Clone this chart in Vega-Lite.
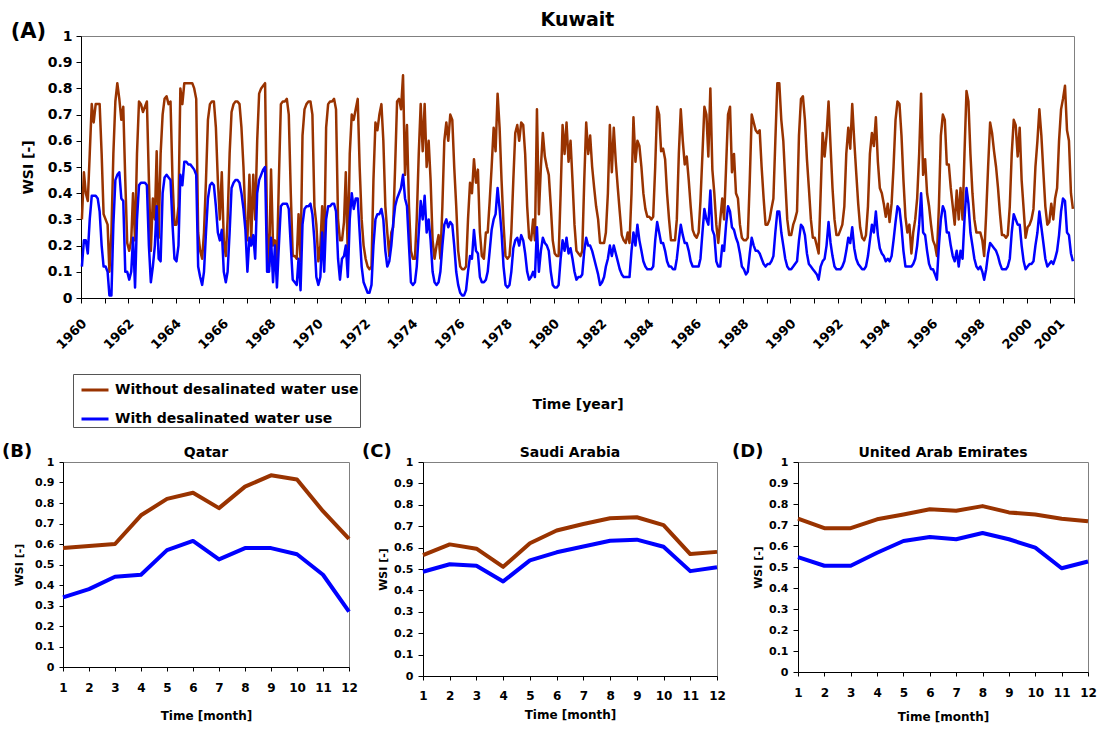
{
"$schema":"https://vega.github.io/schema/vega-lite/v6.json",
"background":"white",
"padding":{"left":2,"top":10,"right":0,"bottom":0},
"config":{
 "view":{"stroke":"#808080","strokeWidth":1},
 "axis":{"grid":false,"domainColor":"#000","tickColor":"#000","labelColor":"#000","titleColor":"#000","labelFontWeight":"bold","titleFontWeight":"bold","labelFont":"DejaVu Sans","titleFont":"DejaVu Sans"},
 "title":{"color":"#000","fontWeight":"bold","font":"DejaVu Sans"},
 "line":{"strokeJoin":"round"}
},
"spacing":14,
"resolve":{"scale":{"color":"independent"},"legend":{"color":"independent"}},
"vconcat":[
{
 "title":{"text":"(A)","anchor":"start","frame":"bounds","dx":-10,"offset":-31,"fontSize":21},
 "bounds":"flush","spacing":17,
 "resolve":{"scale":{"color":"independent"},"legend":{"color":"independent"}},
 "hconcat":[
 {"width":1,"height":1,"view":{"stroke":null},"data":{"values":[{"k":0}]},"mark":{"type":"point","opacity":0}},
 {
  "title":{"text":"Kuwait","fontSize":19,"offset":-1},
  "width":993,"height":262,
  "data":{"values":[
{"d":"1960-01-15","w":0.30,"s":0.12},{"d":"1960-02-15","w":0.48,"s":0.22},{"d":"1960-03-15","w":0.40,"s":0.22},{"d":"1960-04-15","w":0.37,"s":0.17},{"d":"1960-05-15","w":0.55,"s":0.30},{"d":"1960-06-15","w":0.74,"s":0.39},{"d":"1960-07-15","w":0.67,"s":0.39},{"d":"1960-08-15","w":0.74,"s":0.39},{"d":"1960-09-15","w":0.74,"s":0.38},{"d":"1960-10-15","w":0.74,"s":0.33},{"d":"1960-11-15","w":0.55,"s":0.20},{"d":"1960-12-15","w":0.32,"s":0.12},
{"d":"1961-01-15","w":0.30,"s":0.12},{"d":"1961-02-15","w":0.28,"s":0.10},{"d":"1961-03-15","w":0.10,"s":0.01},{"d":"1961-04-15","w":0.25,"s":0.01},{"d":"1961-05-15","w":0.55,"s":0.28},{"d":"1961-06-15","w":0.75,"s":0.45},{"d":"1961-07-15","w":0.82,"s":0.47},{"d":"1961-08-15","w":0.76,"s":0.48},{"d":"1961-09-15","w":0.68,"s":0.38},{"d":"1961-10-15","w":0.73,"s":0.37},{"d":"1961-11-15","w":0.45,"s":0.10},{"d":"1961-12-15","w":0.21,"s":0.10},
{"d":"1962-01-15","w":0.18,"s":0.07},{"d":"1962-02-15","w":0.22,"s":0.10},{"d":"1962-03-15","w":0.40,"s":0.23},{"d":"1962-04-15","w":0.22,"s":0.04},{"d":"1962-05-15","w":0.55,"s":0.30},{"d":"1962-06-15","w":0.75,"s":0.43},{"d":"1962-07-15","w":0.74,"s":0.44},{"d":"1962-08-15","w":0.71,"s":0.44},{"d":"1962-09-15","w":0.73,"s":0.44},{"d":"1962-10-15","w":0.75,"s":0.43},{"d":"1962-11-15","w":0.45,"s":0.20},{"d":"1962-12-15","w":0.18,"s":0.06},
{"d":"1963-01-15","w":0.38,"s":0.12},{"d":"1963-02-15","w":0.30,"s":0.20},{"d":"1963-03-15","w":0.56,"s":0.35},{"d":"1963-04-15","w":0.23,"s":0.15},{"d":"1963-05-15","w":0.55,"s":0.14},{"d":"1963-06-15","w":0.70,"s":0.40},{"d":"1963-07-15","w":0.76,"s":0.46},{"d":"1963-08-15","w":0.77,"s":0.47},{"d":"1963-09-15","w":0.74,"s":0.46},{"d":"1963-10-15","w":0.75,"s":0.45},{"d":"1963-11-15","w":0.45,"s":0.28},{"d":"1963-12-15","w":0.28,"s":0.15},
{"d":"1964-01-15","w":0.28,"s":0.14},{"d":"1964-02-15","w":0.35,"s":0.20},{"d":"1964-03-15","w":0.80,"s":0.47},{"d":"1964-04-15","w":0.74,"s":0.43},{"d":"1964-05-15","w":0.82,"s":0.52},{"d":"1964-06-15","w":0.82,"s":0.52},{"d":"1964-07-15","w":0.82,"s":0.51},{"d":"1964-08-15","w":0.82,"s":0.51},{"d":"1964-09-15","w":0.82,"s":0.50},{"d":"1964-10-15","w":0.80,"s":0.49},{"d":"1964-11-15","w":0.76,"s":0.47},{"d":"1964-12-15","w":0.25,"s":0.12},
{"d":"1965-01-15","w":0.18,"s":0.08},{"d":"1965-02-15","w":0.15,"s":0.05},{"d":"1965-03-15","w":0.25,"s":0.10},{"d":"1965-04-15","w":0.45,"s":0.25},{"d":"1965-05-15","w":0.68,"s":0.38},{"d":"1965-06-15","w":0.74,"s":0.43},{"d":"1965-07-15","w":0.75,"s":0.44},{"d":"1965-08-15","w":0.75,"s":0.43},{"d":"1965-09-15","w":0.65,"s":0.35},{"d":"1965-10-15","w":0.45,"s":0.25},{"d":"1965-11-15","w":0.30,"s":0.22},{"d":"1965-12-15","w":0.48,"s":0.26},
{"d":"1966-01-15","w":0.22,"s":0.10},{"d":"1966-02-15","w":0.16,"s":0.06},{"d":"1966-03-15","w":0.30,"s":0.10},{"d":"1966-04-15","w":0.55,"s":0.25},{"d":"1966-05-15","w":0.71,"s":0.42},{"d":"1966-06-15","w":0.74,"s":0.44},{"d":"1966-07-15","w":0.75,"s":0.45},{"d":"1966-08-15","w":0.75,"s":0.45},{"d":"1966-09-15","w":0.74,"s":0.44},{"d":"1966-10-15","w":0.65,"s":0.40},{"d":"1966-11-15","w":0.50,"s":0.34},{"d":"1966-12-15","w":0.30,"s":0.26},
{"d":"1967-01-15","w":0.22,"s":0.10},{"d":"1967-02-15","w":0.47,"s":0.23},{"d":"1967-03-15","w":0.22,"s":0.20},{"d":"1967-04-15","w":0.47,"s":0.24},{"d":"1967-05-15","w":0.30,"s":0.15},{"d":"1967-06-15","w":0.60,"s":0.40},{"d":"1967-07-15","w":0.78,"s":0.45},{"d":"1967-08-15","w":0.80,"s":0.47},{"d":"1967-09-15","w":0.81,"s":0.49},{"d":"1967-10-15","w":0.82,"s":0.50},{"d":"1967-11-15","w":0.25,"s":0.10},{"d":"1967-12-15","w":0.12,"s":0.10},
{"d":"1968-01-15","w":0.49,"s":0.23},{"d":"1968-02-15","w":0.20,"s":0.06},{"d":"1968-03-15","w":0.22,"s":0.20},{"d":"1968-04-15","w":0.13,"s":0.04},{"d":"1968-05-15","w":0.45,"s":0.20},{"d":"1968-06-15","w":0.74,"s":0.35},{"d":"1968-07-15","w":0.75,"s":0.36},{"d":"1968-08-15","w":0.75,"s":0.36},{"d":"1968-09-15","w":0.76,"s":0.36},{"d":"1968-10-15","w":0.70,"s":0.34},{"d":"1968-11-15","w":0.40,"s":0.20},{"d":"1968-12-15","w":0.16,"s":0.07},
{"d":"1969-01-15","w":0.16,"s":0.06},{"d":"1969-02-15","w":0.15,"s":0.05},{"d":"1969-03-15","w":0.32,"s":0.15},{"d":"1969-04-15","w":0.14,"s":0.03},{"d":"1969-05-15","w":0.62,"s":0.28},{"d":"1969-06-15","w":0.72,"s":0.34},{"d":"1969-07-15","w":0.74,"s":0.35},{"d":"1969-08-15","w":0.75,"s":0.35},{"d":"1969-09-15","w":0.75,"s":0.36},{"d":"1969-10-15","w":0.70,"s":0.32},{"d":"1969-11-15","w":0.35,"s":0.22},{"d":"1969-12-15","w":0.28,"s":0.08},
{"d":"1970-01-15","w":0.14,"s":0.05},{"d":"1970-02-15","w":0.20,"s":0.08},{"d":"1970-03-15","w":0.35,"s":0.25},{"d":"1970-04-15","w":0.17,"s":0.10},{"d":"1970-05-15","w":0.65,"s":0.30},{"d":"1970-06-15","w":0.74,"s":0.35},{"d":"1970-07-15","w":0.75,"s":0.35},{"d":"1970-08-15","w":0.75,"s":0.36},{"d":"1970-09-15","w":0.76,"s":0.36},{"d":"1970-10-15","w":0.72,"s":0.33},{"d":"1970-11-15","w":0.30,"s":0.15},{"d":"1970-12-15","w":0.22,"s":0.07},
{"d":"1971-01-15","w":0.22,"s":0.15},{"d":"1971-02-15","w":0.29,"s":0.16},{"d":"1971-03-15","w":0.48,"s":0.20},{"d":"1971-04-15","w":0.16,"s":0.08},{"d":"1971-05-15","w":0.55,"s":0.30},{"d":"1971-06-15","w":0.70,"s":0.40},{"d":"1971-07-15","w":0.68,"s":0.34},{"d":"1971-08-15","w":0.72,"s":0.38},{"d":"1971-09-15","w":0.76,"s":0.38},{"d":"1971-10-15","w":0.50,"s":0.25},{"d":"1971-11-15","w":0.30,"s":0.12},{"d":"1971-12-15","w":0.20,"s":0.06},
{"d":"1972-01-15","w":0.15,"s":0.04},{"d":"1972-02-15","w":0.12,"s":0.02},{"d":"1972-03-15","w":0.11,"s":0.02},{"d":"1972-04-15","w":0.12,"s":0.05},{"d":"1972-05-15","w":0.45,"s":0.20},{"d":"1972-06-15","w":0.67,"s":0.30},{"d":"1972-07-15","w":0.64,"s":0.32},{"d":"1972-08-15","w":0.70,"s":0.32},{"d":"1972-09-15","w":0.74,"s":0.34},{"d":"1972-10-15","w":0.60,"s":0.30},{"d":"1972-11-15","w":0.35,"s":0.18},{"d":"1972-12-15","w":0.25,"s":0.12},
{"d":"1973-01-15","w":0.16,"s":0.14},{"d":"1973-02-15","w":0.25,"s":0.20},{"d":"1973-03-15","w":0.27,"s":0.28},{"d":"1973-04-15","w":0.50,"s":0.35},{"d":"1973-05-15","w":0.75,"s":0.38},{"d":"1973-06-15","w":0.76,"s":0.40},{"d":"1973-07-15","w":0.72,"s":0.42},{"d":"1973-08-15","w":0.85,"s":0.47},{"d":"1973-09-15","w":0.47,"s":0.38},{"d":"1973-10-15","w":0.66,"s":0.35},{"d":"1973-11-15","w":0.35,"s":0.20},{"d":"1973-12-15","w":0.18,"s":0.06},
{"d":"1974-01-15","w":0.15,"s":0.05},{"d":"1974-02-15","w":0.15,"s":0.06},{"d":"1974-03-15","w":0.30,"s":0.12},{"d":"1974-04-15","w":0.55,"s":0.25},{"d":"1974-05-15","w":0.74,"s":0.37},{"d":"1974-06-15","w":0.56,"s":0.30},{"d":"1974-07-15","w":0.74,"s":0.39},{"d":"1974-08-15","w":0.50,"s":0.25},{"d":"1974-09-15","w":0.60,"s":0.30},{"d":"1974-10-15","w":0.45,"s":0.22},{"d":"1974-11-15","w":0.22,"s":0.10},{"d":"1974-12-15","w":0.15,"s":0.06},
{"d":"1975-01-15","w":0.20,"s":0.05},{"d":"1975-02-15","w":0.24,"s":0.06},{"d":"1975-03-15","w":0.15,"s":0.10},{"d":"1975-04-15","w":0.35,"s":0.20},{"d":"1975-05-15","w":0.60,"s":0.28},{"d":"1975-06-15","w":0.67,"s":0.30},{"d":"1975-07-15","w":0.60,"s":0.27},{"d":"1975-08-15","w":0.70,"s":0.29},{"d":"1975-09-15","w":0.68,"s":0.28},{"d":"1975-10-15","w":0.50,"s":0.20},{"d":"1975-11-15","w":0.35,"s":0.10},{"d":"1975-12-15","w":0.18,"s":0.05},
{"d":"1976-01-15","w":0.12,"s":0.02},{"d":"1976-02-15","w":0.11,"s":0.01},{"d":"1976-03-15","w":0.11,"s":0.01},{"d":"1976-04-15","w":0.12,"s":0.03},{"d":"1976-05-15","w":0.30,"s":0.10},{"d":"1976-06-15","w":0.44,"s":0.16},{"d":"1976-07-15","w":0.40,"s":0.15},{"d":"1976-08-15","w":0.53,"s":0.26},{"d":"1976-09-15","w":0.44,"s":0.18},{"d":"1976-10-15","w":0.49,"s":0.17},{"d":"1976-11-15","w":0.25,"s":0.08},{"d":"1976-12-15","w":0.16,"s":0.06},
{"d":"1977-01-15","w":0.15,"s":0.06},{"d":"1977-02-15","w":0.25,"s":0.07},{"d":"1977-03-15","w":0.25,"s":0.10},{"d":"1977-04-15","w":0.37,"s":0.18},{"d":"1977-05-15","w":0.50,"s":0.26},{"d":"1977-06-15","w":0.65,"s":0.30},{"d":"1977-07-15","w":0.56,"s":0.32},{"d":"1977-08-15","w":0.78,"s":0.42},{"d":"1977-09-15","w":0.65,"s":0.34},{"d":"1977-10-15","w":0.45,"s":0.25},{"d":"1977-11-15","w":0.28,"s":0.12},{"d":"1977-12-15","w":0.16,"s":0.05},
{"d":"1978-01-15","w":0.15,"s":0.04},{"d":"1978-02-15","w":0.16,"s":0.05},{"d":"1978-03-15","w":0.25,"s":0.10},{"d":"1978-04-15","w":0.45,"s":0.19},{"d":"1978-05-15","w":0.63,"s":0.22},{"d":"1978-06-15","w":0.66,"s":0.23},{"d":"1978-07-15","w":0.60,"s":0.20},{"d":"1978-08-15","w":0.67,"s":0.24},{"d":"1978-09-15","w":0.66,"s":0.22},{"d":"1978-10-15","w":0.55,"s":0.17},{"d":"1978-11-15","w":0.35,"s":0.10},{"d":"1978-12-15","w":0.23,"s":0.07},
{"d":"1979-01-15","w":0.22,"s":0.08},{"d":"1979-02-15","w":0.30,"s":0.10},{"d":"1979-03-15","w":0.22,"s":0.08},{"d":"1979-04-15","w":0.72,"s":0.27},{"d":"1979-05-15","w":0.32,"s":0.10},{"d":"1979-06-15","w":0.50,"s":0.18},{"d":"1979-07-15","w":0.63,"s":0.23},{"d":"1979-08-15","w":0.54,"s":0.21},{"d":"1979-09-15","w":0.50,"s":0.20},{"d":"1979-10-15","w":0.47,"s":0.18},{"d":"1979-11-15","w":0.35,"s":0.10},{"d":"1979-12-15","w":0.22,"s":0.05},
{"d":"1980-01-15","w":0.17,"s":0.04},{"d":"1980-02-15","w":0.16,"s":0.04},{"d":"1980-03-15","w":0.16,"s":0.05},{"d":"1980-04-15","w":0.40,"s":0.15},{"d":"1980-05-15","w":0.66,"s":0.22},{"d":"1980-06-15","w":0.55,"s":0.18},{"d":"1980-07-15","w":0.67,"s":0.23},{"d":"1980-08-15","w":0.52,"s":0.17},{"d":"1980-09-15","w":0.60,"s":0.19},{"d":"1980-10-15","w":0.45,"s":0.15},{"d":"1980-11-15","w":0.28,"s":0.10},{"d":"1980-12-15","w":0.18,"s":0.07},
{"d":"1981-01-15","w":0.17,"s":0.08},{"d":"1981-02-15","w":0.16,"s":0.08},{"d":"1981-03-15","w":0.18,"s":0.09},{"d":"1981-04-15","w":0.45,"s":0.18},{"d":"1981-05-15","w":0.67,"s":0.23},{"d":"1981-06-15","w":0.55,"s":0.20},{"d":"1981-07-15","w":0.62,"s":0.20},{"d":"1981-08-15","w":0.50,"s":0.18},{"d":"1981-09-15","w":0.42,"s":0.15},{"d":"1981-10-15","w":0.35,"s":0.12},{"d":"1981-11-15","w":0.30,"s":0.09},{"d":"1981-12-15","w":0.21,"s":0.05},
{"d":"1982-01-15","w":0.21,"s":0.06},{"d":"1982-02-15","w":0.21,"s":0.08},{"d":"1982-03-15","w":0.25,"s":0.12},{"d":"1982-04-15","w":0.40,"s":0.15},{"d":"1982-05-15","w":0.66,"s":0.20},{"d":"1982-06-15","w":0.48,"s":0.16},{"d":"1982-07-15","w":0.65,"s":0.20},{"d":"1982-08-15","w":0.52,"s":0.17},{"d":"1982-09-15","w":0.42,"s":0.14},{"d":"1982-10-15","w":0.33,"s":0.11},{"d":"1982-11-15","w":0.24,"s":0.09},{"d":"1982-12-15","w":0.22,"s":0.08},
{"d":"1983-01-15","w":0.21,"s":0.08},{"d":"1983-02-15","w":0.25,"s":0.08},{"d":"1983-03-15","w":0.21,"s":0.08},{"d":"1983-04-15","w":0.40,"s":0.18},{"d":"1983-05-15","w":0.69,"s":0.25},{"d":"1983-06-15","w":0.52,"s":0.20},{"d":"1983-07-15","w":0.60,"s":0.28},{"d":"1983-08-15","w":0.58,"s":0.22},{"d":"1983-09-15","w":0.50,"s":0.18},{"d":"1983-10-15","w":0.40,"s":0.14},{"d":"1983-11-15","w":0.34,"s":0.12},{"d":"1983-12-15","w":0.31,"s":0.11},
{"d":"1984-01-15","w":0.31,"s":0.11},{"d":"1984-02-15","w":0.30,"s":0.11},{"d":"1984-03-15","w":0.31,"s":0.12},{"d":"1984-04-15","w":0.50,"s":0.22},{"d":"1984-05-15","w":0.73,"s":0.29},{"d":"1984-06-15","w":0.70,"s":0.25},{"d":"1984-07-15","w":0.56,"s":0.21},{"d":"1984-08-15","w":0.57,"s":0.21},{"d":"1984-09-15","w":0.53,"s":0.18},{"d":"1984-10-15","w":0.40,"s":0.14},{"d":"1984-11-15","w":0.30,"s":0.12},{"d":"1984-12-15","w":0.22,"s":0.12},
{"d":"1985-01-15","w":0.22,"s":0.11},{"d":"1985-02-15","w":0.22,"s":0.11},{"d":"1985-03-15","w":0.30,"s":0.15},{"d":"1985-04-15","w":0.55,"s":0.22},{"d":"1985-05-15","w":0.72,"s":0.28},{"d":"1985-06-15","w":0.60,"s":0.24},{"d":"1985-07-15","w":0.51,"s":0.21},{"d":"1985-08-15","w":0.54,"s":0.21},{"d":"1985-09-15","w":0.45,"s":0.18},{"d":"1985-10-15","w":0.35,"s":0.14},{"d":"1985-11-15","w":0.26,"s":0.12},{"d":"1985-12-15","w":0.24,"s":0.12},
{"d":"1986-01-15","w":0.23,"s":0.12},{"d":"1986-02-15","w":0.25,"s":0.12},{"d":"1986-03-15","w":0.37,"s":0.15},{"d":"1986-04-15","w":0.55,"s":0.25},{"d":"1986-05-15","w":0.73,"s":0.34},{"d":"1986-06-15","w":0.70,"s":0.30},{"d":"1986-07-15","w":0.54,"s":0.28},{"d":"1986-08-15","w":0.80,"s":0.41},{"d":"1986-09-15","w":0.49,"s":0.26},{"d":"1986-10-15","w":0.40,"s":0.24},{"d":"1986-11-15","w":0.28,"s":0.14},{"d":"1986-12-15","w":0.21,"s":0.12},
{"d":"1987-01-15","w":0.30,"s":0.12},{"d":"1987-02-15","w":0.38,"s":0.20},{"d":"1987-03-15","w":0.30,"s":0.18},{"d":"1987-04-15","w":0.50,"s":0.28},{"d":"1987-05-15","w":0.70,"s":0.35},{"d":"1987-06-15","w":0.73,"s":0.33},{"d":"1987-07-15","w":0.48,"s":0.27},{"d":"1987-08-15","w":0.55,"s":0.26},{"d":"1987-09-15","w":0.40,"s":0.23},{"d":"1987-10-15","w":0.38,"s":0.21},{"d":"1987-11-15","w":0.28,"s":0.17},{"d":"1987-12-15","w":0.23,"s":0.12},
{"d":"1988-01-15","w":0.22,"s":0.11},{"d":"1988-02-15","w":0.22,"s":0.09},{"d":"1988-03-15","w":0.23,"s":0.10},{"d":"1988-04-15","w":0.45,"s":0.17},{"d":"1988-05-15","w":0.70,"s":0.23},{"d":"1988-06-15","w":0.67,"s":0.20},{"d":"1988-07-15","w":0.64,"s":0.18},{"d":"1988-08-15","w":0.63,"s":0.18},{"d":"1988-09-15","w":0.64,"s":0.17},{"d":"1988-10-15","w":0.50,"s":0.15},{"d":"1988-11-15","w":0.38,"s":0.13},{"d":"1988-12-15","w":0.28,"s":0.12},
{"d":"1989-01-15","w":0.28,"s":0.13},{"d":"1989-02-15","w":0.30,"s":0.13},{"d":"1989-03-15","w":0.34,"s":0.14},{"d":"1989-04-15","w":0.38,"s":0.16},{"d":"1989-05-15","w":0.60,"s":0.25},{"d":"1989-06-15","w":0.82,"s":0.33},{"d":"1989-07-15","w":0.82,"s":0.33},{"d":"1989-08-15","w":0.68,"s":0.25},{"d":"1989-09-15","w":0.60,"s":0.20},{"d":"1989-10-15","w":0.45,"s":0.15},{"d":"1989-11-15","w":0.30,"s":0.12},{"d":"1989-12-15","w":0.24,"s":0.11},
{"d":"1990-01-15","w":0.24,"s":0.11},{"d":"1990-02-15","w":0.28,"s":0.12},{"d":"1990-03-15","w":0.30,"s":0.13},{"d":"1990-04-15","w":0.33,"s":0.14},{"d":"1990-05-15","w":0.62,"s":0.22},{"d":"1990-06-15","w":0.76,"s":0.28},{"d":"1990-07-15","w":0.77,"s":0.27},{"d":"1990-08-15","w":0.68,"s":0.24},{"d":"1990-09-15","w":0.53,"s":0.17},{"d":"1990-10-15","w":0.42,"s":0.13},{"d":"1990-11-15","w":0.30,"s":0.12},{"d":"1990-12-15","w":0.23,"s":0.11},
{"d":"1991-01-15","w":0.23,"s":0.10},{"d":"1991-02-15","w":0.20,"s":0.09},{"d":"1991-03-15","w":0.17,"s":0.07},{"d":"1991-04-15","w":0.40,"s":0.12},{"d":"1991-05-15","w":0.63,"s":0.14},{"d":"1991-06-15","w":0.54,"s":0.15},{"d":"1991-07-15","w":0.62,"s":0.20},{"d":"1991-08-15","w":0.75,"s":0.29},{"d":"1991-09-15","w":0.58,"s":0.21},{"d":"1991-10-15","w":0.42,"s":0.16},{"d":"1991-11-15","w":0.30,"s":0.12},{"d":"1991-12-15","w":0.24,"s":0.11},
{"d":"1992-01-15","w":0.24,"s":0.11},{"d":"1992-02-15","w":0.26,"s":0.11},{"d":"1992-03-15","w":0.28,"s":0.12},{"d":"1992-04-15","w":0.35,"s":0.14},{"d":"1992-05-15","w":0.55,"s":0.18},{"d":"1992-06-15","w":0.65,"s":0.23},{"d":"1992-07-15","w":0.57,"s":0.21},{"d":"1992-08-15","w":0.74,"s":0.27},{"d":"1992-09-15","w":0.60,"s":0.19},{"d":"1992-10-15","w":0.48,"s":0.15},{"d":"1992-11-15","w":0.36,"s":0.13},{"d":"1992-12-15","w":0.27,"s":0.12},
{"d":"1993-01-15","w":0.23,"s":0.11},{"d":"1993-02-15","w":0.22,"s":0.11},{"d":"1993-03-15","w":0.24,"s":0.12},{"d":"1993-04-15","w":0.35,"s":0.16},{"d":"1993-05-15","w":0.55,"s":0.22},{"d":"1993-06-15","w":0.63,"s":0.28},{"d":"1993-07-15","w":0.58,"s":0.25},{"d":"1993-08-15","w":0.69,"s":0.33},{"d":"1993-09-15","w":0.52,"s":0.24},{"d":"1993-10-15","w":0.42,"s":0.19},{"d":"1993-11-15","w":0.40,"s":0.17},{"d":"1993-12-15","w":0.36,"s":0.16},
{"d":"1994-01-15","w":0.31,"s":0.14},{"d":"1994-02-15","w":0.36,"s":0.15},{"d":"1994-03-15","w":0.29,"s":0.14},{"d":"1994-04-15","w":0.36,"s":0.16},{"d":"1994-05-15","w":0.50,"s":0.22},{"d":"1994-06-15","w":0.68,"s":0.29},{"d":"1994-07-15","w":0.75,"s":0.35},{"d":"1994-08-15","w":0.74,"s":0.34},{"d":"1994-09-15","w":0.62,"s":0.27},{"d":"1994-10-15","w":0.45,"s":0.18},{"d":"1994-11-15","w":0.31,"s":0.12},{"d":"1994-12-15","w":0.25,"s":0.12},
{"d":"1995-01-15","w":0.28,"s":0.12},{"d":"1995-02-15","w":0.17,"s":0.12},{"d":"1995-03-15","w":0.25,"s":0.13},{"d":"1995-04-15","w":0.30,"s":0.15},{"d":"1995-05-15","w":0.38,"s":0.20},{"d":"1995-06-15","w":0.55,"s":0.28},{"d":"1995-07-15","w":0.78,"s":0.40},{"d":"1995-08-15","w":0.47,"s":0.25},{"d":"1995-09-15","w":0.53,"s":0.24},{"d":"1995-10-15","w":0.40,"s":0.18},{"d":"1995-11-15","w":0.35,"s":0.13},{"d":"1995-12-15","w":0.28,"s":0.11},
{"d":"1996-01-15","w":0.22,"s":0.11},{"d":"1996-02-15","w":0.20,"s":0.09},{"d":"1996-03-15","w":0.16,"s":0.07},{"d":"1996-04-15","w":0.35,"s":0.20},{"d":"1996-05-15","w":0.62,"s":0.30},{"d":"1996-06-15","w":0.70,"s":0.35},{"d":"1996-07-15","w":0.68,"s":0.33},{"d":"1996-08-15","w":0.51,"s":0.25},{"d":"1996-09-15","w":0.51,"s":0.25},{"d":"1996-10-15","w":0.42,"s":0.20},{"d":"1996-11-15","w":0.35,"s":0.16},{"d":"1996-12-15","w":0.28,"s":0.14},
{"d":"1997-01-15","w":0.41,"s":0.18},{"d":"1997-02-15","w":0.30,"s":0.12},{"d":"1997-03-15","w":0.42,"s":0.18},{"d":"1997-04-15","w":0.30,"s":0.15},{"d":"1997-05-15","w":0.55,"s":0.30},{"d":"1997-06-15","w":0.79,"s":0.42},{"d":"1997-07-15","w":0.75,"s":0.36},{"d":"1997-08-15","w":0.55,"s":0.25},{"d":"1997-09-15","w":0.40,"s":0.20},{"d":"1997-10-15","w":0.30,"s":0.15},{"d":"1997-11-15","w":0.25,"s":0.12},{"d":"1997-12-15","w":0.25,"s":0.11},
{"d":"1998-01-15","w":0.25,"s":0.12},{"d":"1998-02-15","w":0.22,"s":0.10},{"d":"1998-03-15","w":0.16,"s":0.07},{"d":"1998-04-15","w":0.32,"s":0.11},{"d":"1998-05-15","w":0.50,"s":0.17},{"d":"1998-06-15","w":0.67,"s":0.21},{"d":"1998-07-15","w":0.63,"s":0.20},{"d":"1998-08-15","w":0.56,"s":0.19},{"d":"1998-09-15","w":0.50,"s":0.18},{"d":"1998-10-15","w":0.42,"s":0.16},{"d":"1998-11-15","w":0.32,"s":0.13},{"d":"1998-12-15","w":0.24,"s":0.11},
{"d":"1999-01-15","w":0.24,"s":0.11},{"d":"1999-02-15","w":0.23,"s":0.11},{"d":"1999-03-15","w":0.24,"s":0.12},{"d":"1999-04-15","w":0.35,"s":0.15},{"d":"1999-05-15","w":0.55,"s":0.25},{"d":"1999-06-15","w":0.68,"s":0.32},{"d":"1999-07-15","w":0.66,"s":0.30},{"d":"1999-08-15","w":0.54,"s":0.28},{"d":"1999-09-15","w":0.65,"s":0.28},{"d":"1999-10-15","w":0.45,"s":0.20},{"d":"1999-11-15","w":0.34,"s":0.14},{"d":"1999-12-15","w":0.23,"s":0.11},
{"d":"2000-01-15","w":0.27,"s":0.12},{"d":"2000-02-15","w":0.28,"s":0.13},{"d":"2000-03-15","w":0.30,"s":0.13},{"d":"2000-04-15","w":0.34,"s":0.14},{"d":"2000-05-15","w":0.50,"s":0.20},{"d":"2000-06-15","w":0.60,"s":0.25},{"d":"2000-07-15","w":0.72,"s":0.33},{"d":"2000-08-15","w":0.62,"s":0.27},{"d":"2000-09-15","w":0.48,"s":0.21},{"d":"2000-10-15","w":0.35,"s":0.15},{"d":"2000-11-15","w":0.28,"s":0.12},{"d":"2000-12-15","w":0.29,"s":0.13},
{"d":"2001-01-15","w":0.36,"s":0.14},{"d":"2001-02-15","w":0.30,"s":0.13},{"d":"2001-03-15","w":0.38,"s":0.15},{"d":"2001-04-15","w":0.42,"s":0.18},{"d":"2001-05-15","w":0.60,"s":0.24},{"d":"2001-06-15","w":0.72,"s":0.33},{"d":"2001-07-15","w":0.76,"s":0.38},{"d":"2001-08-15","w":0.81,"s":0.37},{"d":"2001-09-15","w":0.64,"s":0.25},{"d":"2001-10-15","w":0.60,"s":0.24},{"d":"2001-11-15","w":0.40,"s":0.17},{"d":"2001-12-15","w":0.34,"s":0.14}
  ]},
  "encoding":{
   "x":{"field":"d","type":"temporal",
    "scale":{"type":"utc","domain":[{"year":1960,"month":1,"date":1,"utc":true},{"year":2002,"month":1,"date":1,"utc":true}]},
    "axis":{"title":"Time [year]",
     "values":[{"year":1960,"month":1,"date":1,"utc":true},{"year":1961,"month":1,"date":1,"utc":true},{"year":1962,"month":1,"date":1,"utc":true},{"year":1963,"month":1,"date":1,"utc":true},{"year":1964,"month":1,"date":1,"utc":true},{"year":1965,"month":1,"date":1,"utc":true},{"year":1966,"month":1,"date":1,"utc":true},{"year":1967,"month":1,"date":1,"utc":true},{"year":1968,"month":1,"date":1,"utc":true},{"year":1969,"month":1,"date":1,"utc":true},{"year":1970,"month":1,"date":1,"utc":true},{"year":1971,"month":1,"date":1,"utc":true},{"year":1972,"month":1,"date":1,"utc":true},{"year":1973,"month":1,"date":1,"utc":true},{"year":1974,"month":1,"date":1,"utc":true},{"year":1975,"month":1,"date":1,"utc":true},{"year":1976,"month":1,"date":1,"utc":true},{"year":1977,"month":1,"date":1,"utc":true},{"year":1978,"month":1,"date":1,"utc":true},{"year":1979,"month":1,"date":1,"utc":true},{"year":1980,"month":1,"date":1,"utc":true},{"year":1981,"month":1,"date":1,"utc":true},{"year":1982,"month":1,"date":1,"utc":true},{"year":1983,"month":1,"date":1,"utc":true},{"year":1984,"month":1,"date":1,"utc":true},{"year":1985,"month":1,"date":1,"utc":true},{"year":1986,"month":1,"date":1,"utc":true},{"year":1987,"month":1,"date":1,"utc":true},{"year":1988,"month":1,"date":1,"utc":true},{"year":1989,"month":1,"date":1,"utc":true},{"year":1990,"month":1,"date":1,"utc":true},{"year":1991,"month":1,"date":1,"utc":true},{"year":1992,"month":1,"date":1,"utc":true},{"year":1993,"month":1,"date":1,"utc":true},{"year":1994,"month":1,"date":1,"utc":true},{"year":1995,"month":1,"date":1,"utc":true},{"year":1996,"month":1,"date":1,"utc":true},{"year":1997,"month":1,"date":1,"utc":true},{"year":1998,"month":1,"date":1,"utc":true},{"year":1999,"month":1,"date":1,"utc":true},{"year":2000,"month":1,"date":1,"utc":true},{"year":2001,"month":1,"date":1,"utc":true},{"year":2001,"month":5,"date":15,"utc":true},{"year":2002,"month":1,"date":1,"utc":true}],
     "labelExpr":"utcmonth(datum.value) == 4 ? '2001' : ((utcyear(datum.value) % 2 == 0 && utcyear(datum.value) <= 2000) ? utcFormat(datum.value, '%Y') : '')",
     "labelOverlap":false,"labelFlush":false,"labelAngle":-45,"labelAlign":"right","labelBaseline":"middle",
     "labelFontSize":13,"labelPadding":18,"labelOffset":3,"tickSize":5,
     "tickOpacity":{"condition":{"test":"utcmonth(datum.value) != 0","value":0},"value":1},
     "titleFontSize":14,"titlePadding":46}}
  },
  "layer":[
   {"mark":{"type":"line","strokeWidth":2.5},
    "encoding":{
     "y":{"field":"w","type":"quantitative","scale":{"domain":[0,1]},
      "axis":{"title":"WSI [-]","values":[0,0.1,0.2,0.3,0.4,0.5,0.6,0.7,0.8,0.9,1],"format":"~g","tickSize":5,"labelPadding":4,"labelFontSize":14,"titleFontSize":14,"titlePadding":12}},
     "color":{"datum":"Without desalinated water use","type":"nominal",
      "scale":{"domain":["Without desalinated water use","With desalinated water use"],"range":["#993300","#0000ff"]},
      "legend":{"title":null,"orient":"none","legendX":-8,"legendY":338,"direction":"vertical","symbolType":"stroke","symbolSize":729,"symbolStrokeWidth":3,"symbolOffset":6,"labelFont":"DejaVu Sans","labelFontSize":14,"labelFontWeight":"bold","labelColor":"#000","labelOffset":5,"labelLimit":400,"strokeColor":"#555","fillColor":"white","padding":1,"rowPadding":7}}}},
   {"mark":{"type":"line","strokeWidth":2.5},
    "encoding":{
     "y":{"field":"s","type":"quantitative","scale":{"domain":[0,1]},
      "axis":{"title":"WSI [-]","values":[0,0.1,0.2,0.3,0.4,0.5,0.6,0.7,0.8,0.9,1],"format":"~g","tickSize":5,"labelPadding":4,"labelFontSize":14,"titleFontSize":14,"titlePadding":12}},
     "color":{"datum":"With desalinated water use","type":"nominal"}}}
  ]
 }]
},
{
 "spacing":4,
 "resolve":{"scale":{"color":"independent"},"legend":{"color":"independent"}},
 "hconcat":[
  {
   "title":{"text":"(B)","anchor":"start","frame":"bounds","dx":-11,"offset":-15,"fontSize":18},
   "vconcat":[{
    "title":{"text":"Qatar","fontSize":14,"offset":-4},
    "width":286,"height":205,
    "data":{"values":[
     {"m":1,"w":0.58,"s":0.34},{"m":2,"w":0.59,"s":0.38},{"m":3,"w":0.60,"s":0.44},{"m":4,"w":0.74,"s":0.45},{"m":5,"w":0.82,"s":0.57},{"m":6,"w":0.85,"s":0.615},{"m":7,"w":0.775,"s":0.525},{"m":8,"w":0.88,"s":0.58},{"m":9,"w":0.935,"s":0.58},{"m":10,"w":0.915,"s":0.55},{"m":11,"w":0.76,"s":0.45},{"m":12,"w":0.625,"s":0.27}]},
    "encoding":{"x":{"field":"m","type":"quantitative","scale":{"domain":[1,12]},
     "axis":{"title":"Time [month]","values":[1,2,3,4,5,6,7,8,9,10,11,12],"format":"d","tickSize":4,"labelPadding":11,"labelFlush":false,"labelFontSize":12,"titleFontSize":12,"titlePadding":17}}},
    "layer":[
     {"mark":{"type":"line","strokeWidth":4},"encoding":{"y":{"field":"w","type":"quantitative","scale":{"domain":[0,1]},"axis":{"title":"WSI [-]","values":[0,0.1,0.2,0.3,0.4,0.5,0.6,0.7,0.8,0.9,1],"format":"~g","tickSize":4,"labelPadding":5,"labelFontSize":11,"titleFontSize":11,"titlePadding":10}},
      "color":{"datum":"Without desalinated water use","type":"nominal","scale":{"domain":["Without desalinated water use","With desalinated water use"],"range":["#993300","#0000ff"]},"legend":null}}},
     {"mark":{"type":"line","strokeWidth":4},"encoding":{"y":{"field":"s","type":"quantitative","scale":{"domain":[0,1]},"axis":{"title":"WSI [-]","values":[0,0.1,0.2,0.3,0.4,0.5,0.6,0.7,0.8,0.9,1],"format":"~g","tickSize":4,"labelPadding":5,"labelFontSize":11,"titleFontSize":11,"titlePadding":10}},
      "color":{"datum":"With desalinated water use","type":"nominal"}}}
    ]
   }]
  },
  {
   "spacing":6,
   "resolve":{"scale":{"color":"independent"},"legend":{"color":"independent"}},
   "hconcat":[
    {
     "title":{"text":"(C)","anchor":"start","frame":"bounds","dx":-15,"offset":-15,"fontSize":18},
     "vconcat":[{
      "title":{"text":"Saudi Arabia","fontSize":14,"offset":-4},
      "width":294,"height":214,
      "data":{"values":[
       {"m":1,"w":0.565,"s":0.487},{"m":2,"w":0.615,"s":0.522},{"m":3,"w":0.595,"s":0.515},{"m":4,"w":0.51,"s":0.442},{"m":5,"w":0.62,"s":0.54},{"m":6,"w":0.68,"s":0.578},{"m":7,"w":0.71,"s":0.605},{"m":8,"w":0.737,"s":0.632},{"m":9,"w":0.742,"s":0.637},{"m":10,"w":0.705,"s":0.604},{"m":11,"w":0.57,"s":0.49},{"m":12,"w":0.58,"s":0.508}]},
      "encoding":{"x":{"field":"m","type":"quantitative","scale":{"domain":[1,12]},
       "axis":{"title":"Time [month]","values":[1,2,3,4,5,6,7,8,9,10,11,12],"format":"d","tickSize":4,"labelPadding":10,"labelFlush":false,"labelFontSize":12,"titleFontSize":12,"titlePadding":8}}},
      "layer":[
       {"mark":{"type":"line","strokeWidth":4},"encoding":{"y":{"field":"w","type":"quantitative","scale":{"domain":[0,1]},"axis":{"title":"WSI [-]","values":[0,0.1,0.2,0.3,0.4,0.5,0.6,0.7,0.8,0.9,1],"format":"~g","tickSize":5,"labelPadding":5,"labelFontSize":11,"titleFontSize":11,"titlePadding":5}},
        "color":{"datum":"Without desalinated water use","type":"nominal","scale":{"domain":["Without desalinated water use","With desalinated water use"],"range":["#993300","#0000ff"]},"legend":null}}},
       {"mark":{"type":"line","strokeWidth":4},"encoding":{"y":{"field":"s","type":"quantitative","scale":{"domain":[0,1]},"axis":{"title":"WSI [-]","values":[0,0.1,0.2,0.3,0.4,0.5,0.6,0.7,0.8,0.9,1],"format":"~g","tickSize":5,"labelPadding":5,"labelFontSize":11,"titleFontSize":11,"titlePadding":5}},
        "color":{"datum":"With desalinated water use","type":"nominal"}}}
      ]
     }]
    },
    {
     "title":{"text":"(D)","anchor":"start","frame":"bounds","dx":-20,"offset":-15,"fontSize":18},
     "vconcat":[{
      "title":{"text":"United Arab Emirates","fontSize":14,"offset":-4},
      "width":290,"height":210,
      "data":{"values":[
       {"m":1,"w":0.73,"s":0.547},{"m":2,"w":0.685,"s":0.506},{"m":3,"w":0.685,"s":0.506},{"m":4,"w":0.727,"s":0.568},{"m":5,"w":0.75,"s":0.624},{"m":6,"w":0.775,"s":0.643},{"m":7,"w":0.768,"s":0.632},{"m":8,"w":0.79,"s":0.662},{"m":9,"w":0.76,"s":0.632},{"m":10,"w":0.75,"s":0.592},{"m":11,"w":0.73,"s":0.494},{"m":12,"w":0.718,"s":0.526}]},
      "encoding":{"x":{"field":"m","type":"quantitative","scale":{"domain":[1,12]},
       "axis":{"title":"Time [month]","values":[1,2,3,4,5,6,7,8,9,10,11,12],"format":"d","tickSize":4,"labelPadding":11,"labelFlush":false,"labelFontSize":12,"titleFontSize":12,"titlePadding":13}}},
      "layer":[
       {"mark":{"type":"line","strokeWidth":4},"encoding":{"y":{"field":"w","type":"quantitative","scale":{"domain":[0,1]},"axis":{"title":"WSI [-]","values":[0,0.1,0.2,0.3,0.4,0.5,0.6,0.7,0.8,0.9,1],"format":"~g","tickSize":5,"labelPadding":5,"labelFontSize":11,"titleFontSize":11,"titlePadding":5}},
        "color":{"datum":"Without desalinated water use","type":"nominal","scale":{"domain":["Without desalinated water use","With desalinated water use"],"range":["#993300","#0000ff"]},"legend":null}}},
       {"mark":{"type":"line","strokeWidth":4},"encoding":{"y":{"field":"s","type":"quantitative","scale":{"domain":[0,1]},"axis":{"title":"WSI [-]","values":[0,0.1,0.2,0.3,0.4,0.5,0.6,0.7,0.8,0.9,1],"format":"~g","tickSize":5,"labelPadding":5,"labelFontSize":11,"titleFontSize":11,"titlePadding":5}},
        "color":{"datum":"With desalinated water use","type":"nominal"}}}
      ]
     }]
    }
   ]
  }
 ]
}
]
}
